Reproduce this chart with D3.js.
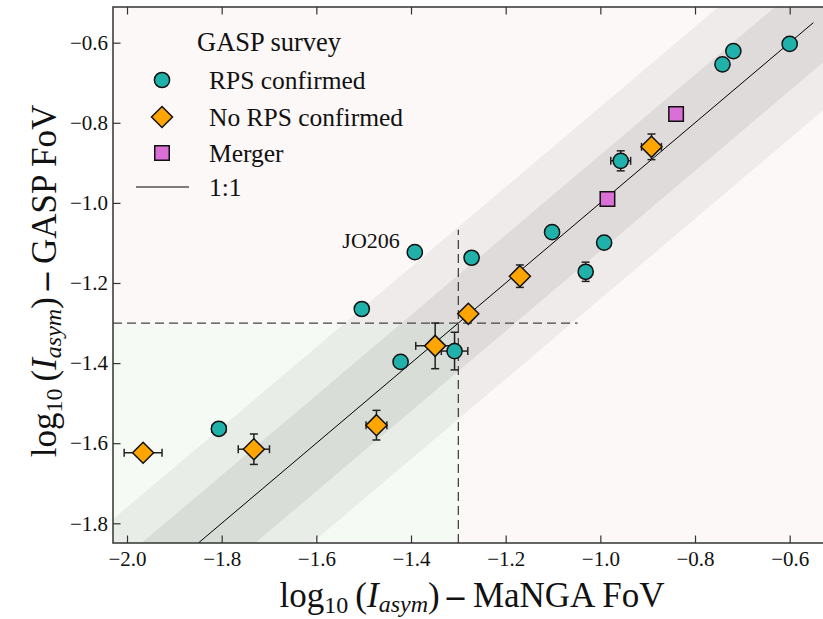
<!DOCTYPE html>
<html>
<head>
<meta charset="utf-8">
<script src="https://cdn.jsdelivr.net/npm/d3@7"></script>
<style>
  html, body { margin: 0; padding: 0; background: #ffffff; }
  svg { display: block; }
  text { font-family: "Liberation Serif", "Times New Roman", serif; fill: #111; }
</style>
</head>
<body>
<svg id="chart" width="823" height="619"></svg>
<script>
// ---------------- data ----------------
const xTicks = [-2.0, -1.8, -1.6, -1.4, -1.2, -1.0, -0.8, -0.6];
const yTicks = [-0.6, -0.8, -1.0, -1.2, -1.4, -1.6, -1.8];

// RPS confirmed (teal circles)
const rpsX    = [-0.600, -0.719, -0.742, -0.957, -0.992, -1.102, -1.031, -1.272, -1.392, -1.504, -1.422, -1.308, -1.806];
const rpsY    = [-0.603, -0.621, -0.654, -0.895, -1.099, -1.073, -1.172, -1.137, -1.123, -1.265, -1.397, -1.370, -1.564];
const rpsXerr = [0, 0, 0, 0.021, 0, 0, 0, 0, 0, 0, 0, 0.028, 0.015];
const rpsYerr = [0, 0, 0, 0.025, 0, 0, 0.024, 0, 0, 0, 0, 0.047, 0];

// No RPS confirmed (orange diamonds)
const noX    = [-0.892, -1.170, -1.279, -1.349, -1.473, -1.732, -1.966];
const noY    = [-0.860, -1.183, -1.277, -1.357, -1.555, -1.615, -1.624];
const noXerr = [0.021, 0, 0, 0.041, 0.022, 0.033, 0.040];
const noYerr = [0.032, 0.028, 0, 0.057, 0.037, 0.038, 0];

// Merger (pink squares)
const merX = [-0.840, -0.985];
const merY = [-0.778, -0.990];

// labelled galaxy
const labelName = "JO206";
const labelX = -1.392, labelY = -1.123;

// 1:1 line, scatter bands, thresholds
const oneToOne = [-1.95, -0.55];
const bandInner = 0.12, bandOuter = 0.24;
const threshold = -1.3;
const vLineTop = -1.067, hLineRight = -1.048;

const xDomain = [-2.0296, -0.5275];
const yDomain = [-1.8492, -0.5109];

// ---------------- layout ----------------
const L = 113, R = 824, T = 7, B = 543;
const svg = d3.select("#chart");
const x = d3.scaleLinear().domain(xDomain).range([L, R]);
const y = d3.scaleLinear().domain(yDomain).range([B, T]);

svg.append("defs").append("clipPath").attr("id", "clip")
  .append("rect").attr("x", L).attr("y", T).attr("width", R - L).attr("height", B - T);

const plot = svg.append("g").attr("clip-path", "url(#clip)");

// backgrounds
plot.append("rect").attr("x", L).attr("y", T).attr("width", R - L).attr("height", B - T)
  .attr("fill", "#fcf8f7");
plot.append("rect").attr("x", L).attr("y", y(threshold))
  .attr("width", x(threshold) - L).attr("height", B - y(threshold))
  .attr("fill", "#f5faf5");

// bands
const bx = [-3, 0];
function band(w) {
  return [[bx[0], bx[0] + w], [bx[1], bx[1] + w], [bx[1], bx[1] - w], [bx[0], bx[0] - w]];
}
const poly = d3.line().x(d => x(d[0])).y(d => y(d[1]));
plot.append("path").attr("d", poly(band(bandOuter)) + "Z").attr("fill", "#000").attr("fill-opacity", 0.052);
plot.append("path").attr("d", poly(band(bandInner)) + "Z").attr("fill", "#000").attr("fill-opacity", 0.065);

// dashed threshold lines
plot.append("line").attr("x1", x(threshold)).attr("x2", x(threshold))
  .attr("y1", B).attr("y2", y(vLineTop))
  .attr("stroke", "#444").attr("stroke-width", 1.3).attr("stroke-dasharray", "9,5");
plot.append("line").attr("x1", L).attr("x2", x(hLineRight))
  .attr("y1", y(threshold)).attr("y2", y(threshold))
  .attr("stroke", "#444").attr("stroke-width", 1.3).attr("stroke-dasharray", "9,5");

// 1:1 line
plot.append("line").attr("x1", x(oneToOne[0])).attr("y1", y(oneToOne[0]))
  .attr("x2", x(oneToOne[1])).attr("y2", y(oneToOne[1]))
  .attr("stroke", "#000").attr("stroke-width", 1);

// error bars
function errorBars(xs, ys, xe, ye) {
  const g = plot.append("g").attr("stroke", "#222").attr("stroke-width", 1.5);
  const cap = 4;
  xs.forEach((xv, i) => {
    const cx = x(xv), cy = y(ys[i]);
    if (xe[i] > 0) {
      const a = x(xv - xe[i]), b = x(xv + xe[i]);
      g.append("line").attr("x1", a).attr("x2", b).attr("y1", cy).attr("y2", cy);
      g.append("line").attr("x1", a).attr("x2", a).attr("y1", cy - cap).attr("y2", cy + cap);
      g.append("line").attr("x1", b).attr("x2", b).attr("y1", cy - cap).attr("y2", cy + cap);
    }
    if (ye[i] > 0) {
      const a = y(ys[i] - ye[i]), b = y(ys[i] + ye[i]);
      g.append("line").attr("x1", cx).attr("x2", cx).attr("y1", a).attr("y2", b);
      g.append("line").attr("x1", cx - cap).attr("x2", cx + cap).attr("y1", a).attr("y2", a);
      g.append("line").attr("x1", cx - cap).attr("x2", cx + cap).attr("y1", b).attr("y2", b);
    }
  });
}
errorBars(rpsX, rpsY, rpsXerr, rpsYerr);
errorBars(noX, noY, noXerr, noYerr);

// markers
const teal = "#20b2aa", orange = "#ffa500", orchid = "#da70d6";
const symCircle = d3.symbol().type(d3.symbolCircle).size(Math.PI * 7.6 * 7.6);
const symSquare = d3.symbol().type(d3.symbolSquare).size(14.5 * 14.5);
const diamondPath = "M0,-10.5L10.5,0L0,10.5L-10.5,0Z";

function markers(xs, ys, path, fill) {
  plot.append("g").selectAll("path").data(xs).join("path")
    .attr("d", path)
    .attr("transform", (d, i) => `translate(${x(d)},${y(ys[i])})`)
    .attr("fill", fill).attr("stroke", "#111").attr("stroke-width", 1.5);
}
markers(rpsX, rpsY, symCircle(), teal);
markers(noX, noY, diamondPath, orange);
markers(merX, merY, symSquare(), orchid);

// JO206 label
svg.append("text").attr("x", x(labelX) - 15).attr("y", y(labelY) - 4)
  .attr("text-anchor", "end").attr("font-size", 22).text(labelName);

// ---------------- axes ----------------
const fmt = v => (v < 0 ? "\u2212" : "") + Math.abs(v).toFixed(1);
const tickLen = 7.5;
const axisColor = "#333";

function styleAxis(g) {
  g.select(".domain").remove();
  g.selectAll(".tick line").attr("stroke", axisColor).attr("stroke-width", 1.2);
  g.selectAll(".tick text").attr("font-family", "Liberation Serif, serif").attr("fill", "#111");
}

const xb = svg.append("g").attr("transform", `translate(0,${B})`)
  .call(d3.axisBottom(x).tickValues(xTicks).tickFormat(fmt).tickSizeInner(-tickLen).tickSizeOuter(0).tickPadding(10));
styleAxis(xb);
xb.selectAll(".tick text").attr("font-size", 21).attr("dy", "0.71em").attr("y", 8);

const xt = svg.append("g").attr("transform", `translate(0,${T})`)
  .call(d3.axisTop(x).tickValues(xTicks).tickFormat("").tickSizeInner(-tickLen).tickSizeOuter(0));
styleAxis(xt);

const yl = svg.append("g").attr("transform", `translate(${L},0)`)
  .call(d3.axisLeft(y).tickValues(yTicks).tickFormat(fmt).tickSizeInner(-tickLen).tickSizeOuter(0).tickPadding(7));
styleAxis(yl);
yl.selectAll(".tick text").attr("font-size", 21).attr("x", -5);

// frame
svg.append("rect").attr("x", L).attr("y", T).attr("width", R - L).attr("height", B - T)
  .attr("fill", "none").attr("stroke", axisColor).attr("stroke-width", 1.5);

// axis labels
function axisLabel(g, suffix) {
  const t = g.append("text").attr("font-size", 35).attr("text-anchor", "middle");
  t.append("tspan").text("log");
  t.append("tspan").attr("font-size", 24).attr("dy", 6).text("10");
  t.append("tspan").attr("dy", -6).text("\u2009(");
  t.append("tspan").attr("font-style", "italic").text("I");
  t.append("tspan").attr("font-style", "italic").attr("font-size", 24).attr("dy", 5).text("asym");
  t.append("tspan").attr("dy", -5).text(")\u2009");
  t.append("tspan").attr("font-weight", "bold").text("\u2013");
  t.append("tspan").text(" " + suffix);
  return t;
}
const gx = svg.append("g").attr("transform", "translate(472,607)");
axisLabel(gx, "MaNGA FoV");
const gy = svg.append("g").attr("transform", "translate(56,281) rotate(-90)");
axisLabel(gy, "GASP FoV");

// ---------------- legend ----------------
const leg = svg.append("g");
leg.append("text").attr("x", 197).attr("y", 51).attr("font-size", 26.5).text("GASP survey");
const legendItems = [
  { label: "RPS confirmed", path: symCircle(), fill: teal, cy: 80 },
  { label: "No RPS confirmed", path: diamondPath, fill: orange, cy: 117 },
  { label: "Merger", path: symSquare(), fill: orchid, cy: 153 }
];
legendItems.forEach(it => {
  leg.append("path").attr("d", it.path).attr("transform", `translate(162,${it.cy})`)
    .attr("fill", it.fill).attr("stroke", "#111").attr("stroke-width", 1.5);
  leg.append("text").attr("x", 209).attr("y", it.cy + 8.5).attr("font-size", 25.5).text(it.label);
});
leg.append("line").attr("x1", 136).attr("x2", 189).attr("y1", 187).attr("y2", 187)
  .attr("stroke", "#000").attr("stroke-width", 1);
leg.append("text").attr("x", 209).attr("y", 195.5).attr("font-size", 25.5).text("1:1");
</script>
</body>
</html>
